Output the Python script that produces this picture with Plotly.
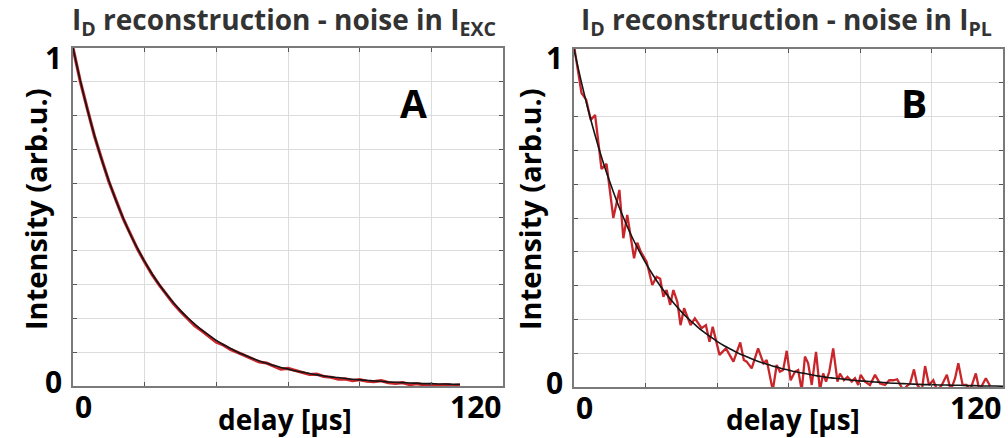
import plotly.graph_objects as go

# ---------------- data ----------------
FIT_T = [0, 2, 4, 6, 8, 10, 12, 14, 16, 18, 20, 22, 24, 26, 28, 30, 32, 34, 36, 38,
         40, 42, 44, 46, 48, 50, 52, 54, 56, 58, 60, 62, 64, 66, 68, 70, 72, 74, 76, 78,
         80, 82, 84, 86, 88, 90, 92, 94, 96, 98, 100, 102, 104, 106, 108, 110, 112, 114,
         116, 118, 120]
FIT_I = [1.000, 0.905, 0.819, 0.741, 0.670, 0.607, 0.549, 0.497, 0.449, 0.407,
         0.368, 0.333, 0.301, 0.273, 0.247, 0.223, 0.202, 0.183, 0.165, 0.150,
         0.135, 0.122, 0.111, 0.100, 0.091, 0.082, 0.074, 0.067, 0.061, 0.055,
         0.050, 0.045, 0.041, 0.037, 0.033, 0.030, 0.027, 0.025, 0.022, 0.020,
         0.018, 0.017, 0.015, 0.014, 0.012, 0.011, 0.010, 0.009, 0.008, 0.007,
         0.007, 0.006, 0.006, 0.005, 0.005, 0.004, 0.004, 0.003, 0.003, 0.003, 0.002]

A_T = [0, 2, 4, 6, 8, 10, 12, 14, 16, 18, 20, 22, 24, 26, 28, 30, 32, 34, 36, 38,
       40, 42, 44, 46, 48, 50, 52, 54, 56, 58, 60, 62, 64, 66, 68, 70, 72, 74, 76, 78,
       80, 82, 84, 86, 88, 90, 92, 94, 96, 98, 100, 102, 104, 106, 108]
A_NOISY = [1.000, 0.903, 0.820, 0.739, 0.671, 0.605, 0.550, 0.495, 0.450, 0.405,
           0.367, 0.331, 0.300, 0.270, 0.244, 0.221, 0.198, 0.178, 0.163, 0.146,
           0.130, 0.121, 0.108, 0.099, 0.090, 0.080, 0.071, 0.068, 0.058, 0.050,
           0.052, 0.046, 0.040, 0.034, 0.035, 0.028, 0.026, 0.020, 0.021, 0.016,
           0.019, 0.014, 0.013, 0.016, 0.010, 0.008, 0.010, 0.004, 0.007, 0.003,
           0.005, 0.002, 0.004, 0.001, 0.003]
A_FIT_END = 108

B_T = [0, 0.3, 2.1, 3.4, 4.7, 5.9, 7.7, 9.1, 11.0, 12.7,
       13.8, 14.9, 16.8, 17.7, 18.7, 20.3, 21.9, 23.1, 24.1, 25.0,
       25.9, 26.9, 27.8, 28.9, 29.8, 30.8, 32.6, 33.8, 35.7, 36.9,
       37.9, 38.8, 40.7, 42.5, 44.6, 46.5, 47.5, 48.3, 49.7, 51.5,
       53.0, 53.9, 55.6, 56.7, 57.6, 58.5, 59.5, 60.6, 61.8, 62.7,
       63.7, 64.6, 65.5, 66.5, 67.7, 68.8, 69.7, 70.5, 71.4, 72.5,
       73.7, 74.4, 75.5, 76.5, 77.7, 78.6, 79.5, 80.2, 81.4, 82.8,
       84.2, 85.6, 87.0, 88.2, 89.3, 90.4, 92.1, 93.1, 94.0, 95.1,
       96.0, 97.3, 98.2, 99.3, 100.5, 101.6, 102.9, 104.3, 105.4, 106.6,
       107.5, 108.7, 109.8, 110.8, 112.4, 113.4, 115.2, 116.4]
B_NOISY = [1.02, 0.99, 0.87, 0.85, 0.79, 0.805, 0.645, 0.66, 0.50, 0.583,
           0.44, 0.509, 0.381, 0.427, 0.40, 0.371, 0.302, 0.326, 0.32, 0.267,
           0.287, 0.243, 0.287, 0.252, 0.183, 0.233, 0.183, 0.203, 0.174, 0.183,
           0.134, 0.178, 0.095, 0.114, 0.075, 0.132, 0.08, 0.075, 0.055, 0.114,
           0.07, 0.08, -0.01, 0.065, 0.045, 0.05, 0.107, 0.02, 0.045, 0.05,
           -0.01, 0.09, 0.07, 0.006, 0.104, -0.01, 0.04, 0.016, 0.045, 0.114,
           0.016, 0.04, 0.02, 0.03, 0.016, 0.026, 0.006, 0.036, 0.016, 0.006,
           0.036, 0.01, 0.006, 0.02, 0.02, 0.023, -0.01, 0.003, 0.01, 0.052,
           0.006, -0.01, 0.062, 0.006, 0.02, -0.01, 0.006, 0.036, -0.01, 0.026,
           0.07, 0.006, 0.006, -0.01, 0.04, -0.01, 0.026, 0.003]

PANEL_TITLES = ["I<sub>D</sub> reconstruction - noise in I<sub>EXC</sub>",
                "I<sub>D</sub> reconstruction - noise in I<sub>PL</sub>"]
PANEL_LETTERS = ["A", "B"]
X_TITLE = "delay [µs]"
Y_TITLE = "Intensity (arb.u.)"
X_TICK_VALUES = [0, 120]
X_TICK_LABELS = ["0", "120"]
Y_TICK_VALUES = [0, 1]
Y_TICK_LABELS = ["0", "1"]
X_GRID = [0, 20, 40, 60, 80, 100, 120]
Y_GRID = [0, 0.1, 0.2, 0.3, 0.4, 0.5, 0.6, 0.7, 0.8, 0.9, 1.0]

# ---------------- style ----------------
W, H = 1008, 438
RED = "#c8262b"
BLACK = "#151515"
FONT = "Open Sans"


def px_x(p):
    return p / W


def px_y(p):
    return (H - p) / H


panels = [
    dict(xd=[px_x(73), px_x(503)], yd=[px_y(386), px_y(48)], tcx=284, ycx=36, dcx=285,
         lx=413),
    dict(xd=[px_x(574), px_x(1003)], yd=[px_y(387), px_y(49)], tcx=786, ycx=530, dcx=793,
         lx=914),
]

fig = go.Figure()

# panel A
fit_a_t = [t for t in FIT_T if t <= A_FIT_END]
fit_a_i = FIT_I[:len(fit_a_t)]
fig.add_trace(go.Scatter(x=A_T, y=A_NOISY, mode="lines", xaxis="x", yaxis="y",
                         line=dict(color=RED, width=3.2), showlegend=False))
fig.add_trace(go.Scatter(x=fit_a_t, y=fit_a_i, mode="lines", xaxis="x", yaxis="y",
                         line=dict(color=BLACK, width=1.6, shape="spline"), showlegend=False))
# panel B
fig.add_trace(go.Scatter(x=B_T, y=B_NOISY, mode="lines", xaxis="x2", yaxis="y2",
                         line=dict(color=RED, width=2.3), showlegend=False))
fig.add_trace(go.Scatter(x=FIT_T, y=FIT_I, mode="lines", xaxis="x2", yaxis="y2",
                         line=dict(color=BLACK, width=1.6, shape="spline"), showlegend=False))

axis_common = dict(showline=True, linecolor="#7a7a7a", linewidth=1.5, mirror="ticks",
                   ticks="inside", ticklen=4, tickcolor="#555555", tickwidth=1,
                   showgrid=True, gridcolor="#dcdcdc", gridwidth=1,
                   zeroline=False, showticklabels=False, tickmode="array")

layout = dict(width=W, height=H, margin=dict(l=0, r=0, t=0, b=0),
              paper_bgcolor="white", plot_bgcolor="white", showlegend=False)
annotations = []
for i, p in enumerate(panels):
    sx = "" if i == 0 else str(i + 1)
    layout["xaxis" + sx] = dict(axis_common, domain=p["xd"], range=[0, 120],
                                tickvals=X_GRID, anchor="y" + sx)
    layout["yaxis" + sx] = dict(axis_common, domain=p["yd"], range=[0, 1],
                                tickvals=Y_GRID, anchor="x" + sx)
    xr, yr = "x" + sx, "y" + sx
    # title
    annotations.append(dict(text="<b>" + PANEL_TITLES[i] + "</b>", xref="paper", yref="paper",
                            x=px_x(p["tcx"]), y=px_y(21), xanchor="center", yanchor="middle",
                            showarrow=False, font=dict(family=FONT, size=28, color="#333333")))
    # letter
    annotations.append(dict(text="<b>" + PANEL_LETTERS[i] + "</b>", xref="paper", yref="paper",
                            x=px_x(p["lx"]), y=px_y(102), xanchor="center", yanchor="middle",
                            showarrow=False, font=dict(family=FONT, size=39, color="black")))
    # y title
    annotations.append(dict(text="<b>" + Y_TITLE + "</b>", xref="paper", yref="paper",
                            x=px_x(p["ycx"]), y=px_y(209), xanchor="center", yanchor="middle",
                            textangle=-90, showarrow=False,
                            font=dict(family=FONT, size=29, color="black")))
    # x title
    annotations.append(dict(text="<b>" + X_TITLE + "</b>", xref="paper", yref="paper",
                            x=px_x(p["dcx"]), y=px_y(419), xanchor="center", yanchor="middle",
                            showarrow=False, font=dict(family=FONT, size=28, color="black")))
    # x tick labels
    for v, lab in zip(X_TICK_VALUES, X_TICK_LABELS):
        annotations.append(dict(text="<b>" + lab + "</b>", xref=xr, yref=yr, x=v, y=0,
                                xanchor="left" if v == X_TICK_VALUES[0] else "right",
                                yanchor="middle", yshift=-20, showarrow=False,
                                font=dict(family=FONT, size=30, color="black")))
    # y tick labels
    for v, lab in zip(Y_TICK_VALUES, Y_TICK_LABELS):
        annotations.append(dict(text="<b>" + lab + "</b>", xref=xr, yref=yr, x=0, y=v,
                                xanchor="right", yanchor="middle", xshift=-9,
                                yshift=(5 if v == Y_TICK_VALUES[0] else -9),
                                showarrow=False,
                                font=dict(family=FONT, size=30, color="black")))
layout["annotations"] = annotations
fig.update_layout(**layout)

fig.write_html("out.html", config={"displayModeBar": False})

# remove the default page margin so the figure sits at the window origin
with open("out.html", "r", encoding="utf-8") as f:
    html = f.read()
html = html.replace("<body>", '<body style="margin:0;padding:0;overflow:hidden;">', 1)
with open("out.html", "w", encoding="utf-8") as f:
    f.write(html)
